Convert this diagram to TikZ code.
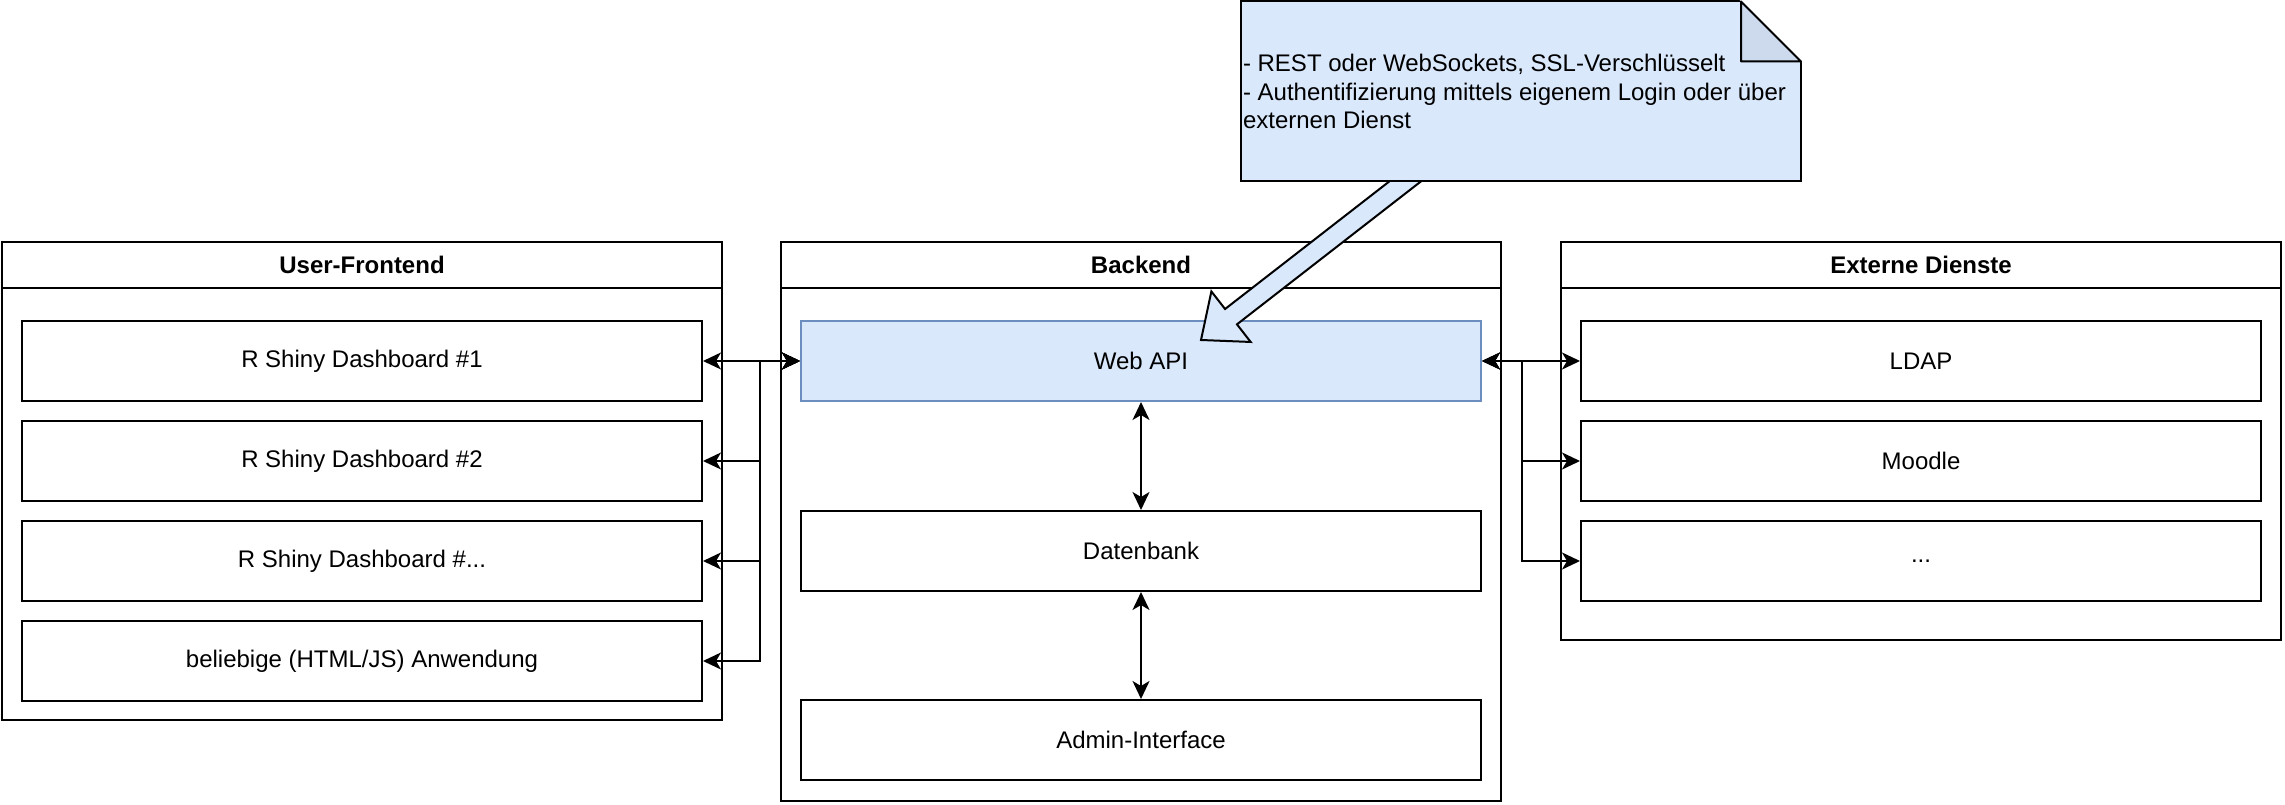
\documentclass[tikz,border=0pt]{standalone}
\usepackage{fontspec}
\setmainfont{Liberation Sans}
\usetikzlibrary{arrows.meta,calc}

\definecolor{apifill}{HTML}{DAE8FC}
\definecolor{apiline}{HTML}{6C8EBF}
\colorlet{foldfill}{apifill!94!black}

\pgfdeclarelayer{front}
\pgfsetlayers{main,front}

\newcommand{\boxfont}{\fontsize{24}{28.8}\selectfont}

\tikzset{
		group/.style={
			draw, line width=2pt, minimum width=720pt, inner sep=0pt},
		grouphead/.style={
			draw, line width=2pt, minimum width=720pt, minimum height=46pt,
			inner sep=0pt, anchor=north, font=\boxfont\bfseries},
		item/.style={
			draw, line width=2pt, minimum width=680pt, minimum height=80pt,
			inner sep=0pt, font=\boxfont},
		api/.style={item, fill=apifill, draw=apiline},
		link/.style={draw, line width=2pt, <->},
		notebox/.style={
			draw, fill=apifill, line width=2pt, outer sep=0pt, inner sep=2pt,
			text width=556pt, minimum height=180pt, align=flush left, font=\boxfont},
		fold/.style={fill=foldfill, draw, line width=2pt, line join=round},
		blockarrow/.style={fill=apifill, draw, line width=2pt, line join=miter},
	}
\def\split{40}

\begin{document}
\begin{tikzpicture}[
			x=1pt, y=-1pt, >={Stealth[length=18pt,width=17pt,inset=5pt]}]
			\useasboundingbox (0,0) rectangle (2285,805);
			% groups
			\node[group, minimum height=478pt] (fe) at (362,481) {};
			\node[grouphead] (feh) at (fe.north) {User-Frontend};
			\node[group, minimum height=559pt] (be) at (1141,521.5) {};
			\node[grouphead] (beh) at (be.north) {Backend};
			\node[group, minimum height=398pt] (ex) at (1921,441) {};
			\node[grouphead] (exh) at (ex.north) {Externe Dienste};
			% frontend
			\node[item] (f1) at (362,361) {R Shiny Dashboard \#1};
			\node[item] (f2) at (362,461) {R Shiny Dashboard \#2};
			\node[item] (f3) at (362,561) {R Shiny Dashboard \#...};
			\node[item] (f4) at (362,661) {beliebige (HTML/JS) Anwendung};
			% backend
			\node[api] (api) at (1141,361) {Web API};
			\node[item] (db) at (1141,551) {Datenbank};
			\node[item] (adm) at (1141,740) {Admin-Interface};
			% externe dienste
			\node[item] (e1) at (1921,361) {LDAP};
			\node[item] (e2) at (1921,461) {Moodle};
			\node[item] (e3) at (1921,561) {...};
			\draw[link] (api.west) -- (f1.east);
			\draw[link] (api.west) -- ++(-\split,0) |- (f2.east);
			\draw[link] (api.west) -- ++(-\split,0) |- (f3.east);
			\draw[link] (api.west) -- ++(-\split,0) |- (f4.east);
			\draw[link] (api.east) -- (e1.west);
			\draw[link] (api.east) -- ++(\split,0) |- (e2.west);
			\draw[link] (api.east) -- ++(\split,0) |- (e3.west);
			\draw[link] (api.south) -- (db.north);
			\draw[link] (db.south) -- (adm.north);
			% note
			\begin{pgfonlayer}{front}
			\node[notebox] (note) at (1521,91.5) {- REST oder WebSockets, SSL-Verschlüsselt\\
				- Authentifizierung mittels eigenem Login oder über\\
				externen Dienst};
			\fill[white] ([xshift=-62pt,yshift=2pt]note.north east)
				-- ([xshift=2pt,yshift=2pt]note.north east)
				-- ([xshift=2pt,yshift=-62pt]note.north east) -- cycle;
			\filldraw[fold] ([xshift=-60pt]note.north east)
				-- ([xshift=-60pt,yshift=-60pt]note.north east)
				-- ([yshift=-60pt]note.north east) -- cycle;
			\end{pgfonlayer}
			\coordinate (atail) at ($(note.south)+(-116,0)$);
			\coordinate (atip) at ($(api.north west)+(401,20)$);
			\coordinate (aback) at ($(atail)!-20pt!(atip)$);
			\coordinate (aneck) at ($(atip)!38pt!(atail)$);
			\filldraw[blockarrow] ($(aback)!9.7pt!90:(atip)$)
				-- ($(aneck)!9.7pt!90:(atip)$) -- ($(aneck)!32pt!90:(atip)$)
				-- (atip)
				-- ($(aneck)!32pt!-90:(atip)$) -- ($(aneck)!9.7pt!-90:(atip)$)
				-- ($(aback)!9.7pt!-90:(atip)$) -- cycle;
			\end{tikzpicture}
\end{document}
